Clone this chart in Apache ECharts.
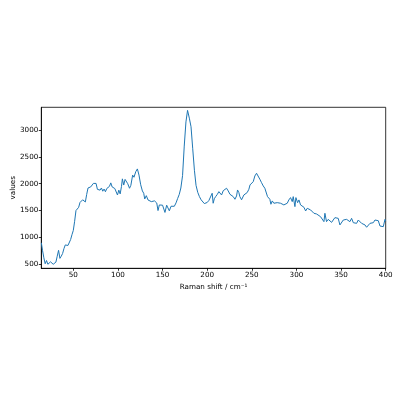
<!DOCTYPE html>
<html>
<head>
<meta charset="utf-8">
<script src="https://cdn.jsdelivr.net/npm/echarts@6/dist/echarts.min.js"></script>
<style>
html,body{margin:0;padding:0;background:#fff;}
#chart{width:400px;height:400px;}
</style>
</head>
<body>
<div id="chart"></div>
<script>
const ramanShift = [14.2,15.5,17,18.5,20,21.5,23,24.5,26,27.5,29,30.5,32,33.5,35,36.5,38,39.5,41,42.5,44,45.5,47,48.5,50,51.5,53,54.5,56,57.5,59,60.5,62,63.5,65,66.5,68,69.5,71,72.5,74,75.5,77,78.5,80,81.5,83,84.5,86,87.5,89,90.5,92,93.5,95,96.5,98,99.5,101,102.5,104,105,106.5,108,109.5,111,113,114.5,116.5,118,120,121.8,123.6,125.5,127.4,128.9,130,131.8,133.7,135.6,137.4,139.3,141,142.5,143.5,144.9,146.4,148,150,151.6,152.7,154.6,156.5,157.6,159.5,161.3,163.2,165.1,166.9,168.7,170.5,172.4,174.3,176.2,178,180,181.9,183.8,185.7,187.5,189.4,191.3,193.2,195,196.8,198.5,200,202,204,205.6,206.7,208,209.5,211.3,213.1,215,216.1,218,219.8,221.7,223.6,225.5,227.3,229.2,231.1,232.9,234,235.5,236.6,238.5,240,241.1,243,244.8,246.7,248,249.7,251.6,253.4,255.3,257.2,259,260.9,262.8,264.6,266.5,267.6,269.1,270.2,271.4,272.9,274.7,276.6,278.5,280.3,282.2,284.1,285.9,287.8,289.7,291.5,293.4,295.3,296.4,298.3,299.4,301.3,302.8,304.6,306.5,308.4,310.3,312.1,314,315.9,317.7,319.6,322.6,324.4,327,328.9,330.8,331.9,333.7,335.6,337.5,339.4,341.2,343.1,345,346.8,348.7,350.6,352.5,354.3,356.2,358.1,359.9,361.8,363.7,365.5,367.4,369.3,371.1,373,374.9,376.8,378.6,380.5,382.4,384.2,386.1,388,389.9,391.7,393.6,395.4,397.3,399.2,400];
const intensity = [900,760,620,510,570,500,530,545,510,500,480,540,650,760,610,650,700,790,860,830,850,880,960,1050,1130,1300,1500,1510,1560,1650,1670,1700,1730,1660,1800,1920,1935,1940,1960,2005,2010,2005,1895,1930,1880,1920,1860,1900,1850,1910,1900,1950,2015,1940,1935,1910,1880,1790,1880,1810,1950,2090,1975,2080,2060,2000,1915,1970,2160,2120,2224,2275,2160,1980,1865,1822,1716,1777,1697,1716,1666,1648,1680,1700,1640,1500,1604,1610,1600,1567,1465,1600,1600,1495,1580,1555,1580,1643,1725,1800,1920,2150,2700,3150,3365,3220,3060,2650,2250,1970,1840,1760,1700,1665,1630,1610,1650,1690,1700,1822,1636,1720,1760,1800,1852,1883,1790,1870,1852,1915,1865,1803,1790,1759,1710,1772,1883,1835,1759,1700,1700,1790,1822,1835,1896,1977,1958,2038,2144,2194,2194,2083,2019,1958,1915,1883,1759,1759,1710,1617,1679,1636,1666,1647,1617,1636,1617,1605,1617,1636,1698,1741,1666,1759,1573,1741,1647,1698,1605,1636,1561,1492,1542,1561,1511,1480,1449,1436,1418,1386,1368,1293,1449,1293,1336,1311,1280,1324,1368,1336,1355,1232,1262,1324,1311,1336,1311,1293,1355,1274,1293,1262,1324,1293,1262,1249,1232,1189,1212,1262,1293,1274,1324,1355,1311,1212,1249,1200,1336,1300];
const xTicks = [50,100,150,200,250,300,350,400];
const yTicks = [500,1000,1500,2000,2500,3000];

const chart = echarts.init(document.getElementById('chart'), null, {renderer:'canvas'});
const font = 'DejaVu Sans';
const seriesData = ramanShift.map((x,i)=>[x, intensity[i]]);
chart.setOption({
  animation:false,
  backgroundColor:'#fff',
  grid:{left:41.3, right:14.3, top:107.3, bottom:131.7, show:true, borderColor:'#000', borderWidth:0.8, containLabel:false, outerBoundsMode:'none'},
  xAxis:{
    type:'value', min:14.15, max:400,
    name:'Raman shift / cm⁻¹', nameLocation:'middle', nameGap:15, nameMoveOverlap:false,
    nameTextStyle:{fontFamily:font, fontSize:7.2, color:'#000'},
    axisLine:{show:true, lineStyle:{color:'#000', width:0.8}},
    axisTick:{show:true, length:2.5, inside:false, lineStyle:{color:'#000', width:0.8}, customValues:xTicks},
    axisLabel:{fontFamily:font, fontSize:7.2, color:'#000', margin:3, customValues:xTicks, formatter:v=>String(v)},
    splitLine:{show:false}
  },
  yAxis:{
    type:'value', min:425, max:3422,
    name:'values', nameLocation:'middle', nameGap:25, nameMoveOverlap:false,
    nameTextStyle:{fontFamily:font, fontSize:7.2, color:'#000'},
    axisLine:{show:true, lineStyle:{color:'#000', width:0.8}},
    axisTick:{show:true, length:2.5, inside:false, lineStyle:{color:'#000', width:0.8}, customValues:yTicks},
    axisLabel:{fontFamily:font, fontSize:7.2, color:'#000', margin:3, customValues:yTicks, formatter:v=>String(v)},
    splitLine:{show:false}
  },
  series:[{
    type:'line', data:seriesData, showSymbol:false, symbol:'none',
    lineStyle:{color:'#1f77b4', width:1}, itemStyle:{color:'#1f77b4'}
  }]
});
</script>
</body>
</html>
